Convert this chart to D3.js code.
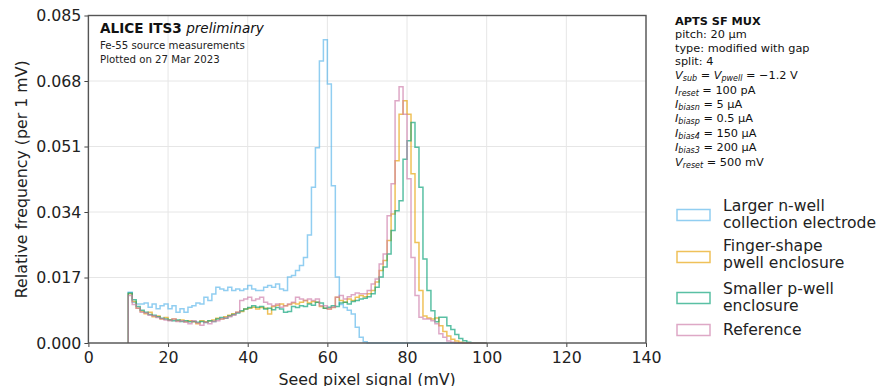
<!DOCTYPE html>
<html>
<head>
<meta charset="utf-8">
<script src="https://cdn.jsdelivr.net/npm/d3@7"></script>
<style>
  body { margin: 0; background: #fff; }
  svg { display: block; font-family: "DejaVu Sans", sans-serif; }
</style>
</head>
<body>
<svg id="chart" width="880" height="386"></svg>
<script>
// bin lower edges in mV, 1 mV wide bins
var binStart = d3.range(10, 100);

// relative frequency per bin
var nwell = [0.0132,0.0106,0.0101,0.0101,0.0104,0.0093,0.0101,0.0089,0.0097,0.0101,
  0.0089,0.0097,0.0080,0.0089,0.0080,0.0093,0.0097,0.0104,0.0101,0.0119,
  0.0110,0.0127,0.0145,0.0140,0.0136,0.0145,0.0136,0.0140,0.0136,0.0140,
  0.0149,0.0140,0.0136,0.0136,0.0145,0.0149,0.0145,0.0153,0.0140,0.0136,
  0.0171,0.0175,0.0188,0.0201,0.0222,0.0280,0.0404,0.0507,0.0732,0.0787,
  0.0672,0.0408,0.0171,0.0100,0.0092,0.0085,0.0075,0.0041,0.0015,0.0003,
  0,0,0,0,0,0,0,0,0,0, 0,0,0,0,0,0,0,0,0,0, 0,0,0,0,0,0,0,0,0,0];
var finger = [0.0128,0.0108,0.0090,0.0082,0.0076,0.0080,0.0068,0.0070,0.0062,0.0066,
  0.0060,0.0062,0.0058,0.0060,0.0056,0.0058,0.0055,0.0050,0.0058,0.0055,
  0.0057,0.0060,0.0064,0.0062,0.0068,0.0072,0.0076,0.0080,0.0082,0.0088,
  0.0090,0.0093,0.0088,0.0092,0.0090,0.0075,0.0095,0.0098,0.0101,0.0097,
  0.0100,0.0104,0.0101,0.0106,0.0110,0.0104,0.0108,0.0106,0.0095,0.0090,
  0.0088,0.0092,0.0119,0.0110,0.0106,0.0114,0.0110,0.0119,0.0123,0.0120,
  0.0128,0.0136,0.0158,0.0188,0.0214,0.0266,0.0335,0.0473,0.0594,0.0629,
  0.0594,0.0439,0.0261,0.0136,0.0070,0.0065,0.0062,0.0065,0.0045,0.0030,
  0.0018,0.0010,0.0005,0.0002,0,0,0,0,0,0];
var smaller = [0.0130,0.0112,0.0095,0.0085,0.0080,0.0074,0.0072,0.0068,0.0064,0.0062,
  0.0060,0.0058,0.0060,0.0056,0.0058,0.0055,0.0056,0.0054,0.0056,0.0053,
  0.0058,0.0056,0.0062,0.0066,0.0064,0.0070,0.0074,0.0078,0.0084,0.0088,
  0.0092,0.0097,0.0093,0.0095,0.0088,0.0090,0.0086,0.0092,0.0088,0.0080,
  0.0082,0.0095,0.0092,0.0097,0.0095,0.0101,0.0098,0.0106,0.0104,0.0090,
  0.0093,0.0097,0.0095,0.0104,0.0106,0.0101,0.0108,0.0110,0.0114,0.0116,
  0.0120,0.0128,0.0145,0.0171,0.0197,0.0231,0.0292,0.0343,0.0369,0.0477,
  0.0525,0.0572,0.0508,0.0404,0.0218,0.0136,0.0084,0.0055,0.0067,0.0067,
  0.0045,0.0035,0.0022,0.0012,0.0006,0.0002,0,0,0,0];
var reference = [0.0123,0.0100,0.0090,0.0080,0.0078,0.0072,0.0070,0.0066,0.0063,0.0060,
  0.0058,0.0062,0.0056,0.0058,0.0054,0.0050,0.0058,0.0052,0.0046,0.0054,
  0.0050,0.0056,0.0058,0.0062,0.0065,0.0068,0.0072,0.0080,0.0110,0.0114,
  0.0119,0.0110,0.0114,0.0119,0.0106,0.0101,0.0097,0.0101,0.0093,0.0097,
  0.0101,0.0106,0.0119,0.0114,0.0110,0.0114,0.0110,0.0114,0.0097,0.0097,
  0.0088,0.0093,0.0119,0.0123,0.0114,0.0120,0.0125,0.0130,0.0128,0.0128,
  0.0136,0.0153,0.0166,0.0205,0.0231,0.0330,0.0413,0.0629,0.0665,0.0594,
  0.0426,0.0222,0.0123,0.0067,0.0062,0.0062,0.0058,0.0050,0.0024,0.0015,
  0.0005,0.0002,0,0,0,0,0,0,0,0];

var seriesNames = [["Larger n-well", "collection electrode"], ["Finger-shape", "pwell enclosure"],
  ["Smaller p-well", "enclosure"], ["Reference"]];
var seriesColors = ["#56B4E9", "#E69F00", "#009E73", "#CC79A7"];
var xTicks = [0, 20, 40, 60, 80, 100, 120, 140];
var yTicks = [0, 0.017, 0.034, 0.051, 0.068, 0.085];

drawChart();

function drawChart(){
  var svg = d3.select("#chart");
  var pLeft = 88.4, pRight = 646, pTop = 15.5, pBottom = 343;

  var x = d3.scaleLinear().domain([0, 140]).range([pLeft, pRight]);
  var y = d3.scaleLinear().domain([0, 0.085]).range([pBottom, pTop]);

  // grid
  svg.append("g").selectAll("line").data(xTicks).enter().append("line")
    .attr("x1", function(d){ return x(d); }).attr("x2", function(d){ return x(d); })
    .attr("y1", pTop).attr("y2", pBottom)
    .attr("stroke", "#e6e6e6").attr("stroke-width", 1);
  svg.append("g").selectAll("line").data(yTicks).enter().append("line")
    .attr("x1", pLeft).attr("x2", pRight)
    .attr("y1", function(d){ return y(d); }).attr("y2", function(d){ return y(d); })
    .attr("stroke", "#e6e6e6").attr("stroke-width", 1);

  // histograms as steps
  var line = d3.line().x(function(d){ return x(d[0]); }).y(function(d){ return y(d[1]); });
  [nwell, finger, smaller, reference].forEach(function(vals, k){
    var pts = [[binStart[0], 0]];
    vals.forEach(function(v, i){
      pts.push([binStart[i], v]);
      pts.push([binStart[i] + 1, v]);
    });
    pts.push([binStart[binStart.length - 1] + 1, 0]);
    svg.append("path").attr("d", line(pts))
      .attr("fill", "none")
      .attr("stroke", seriesColors[k])
      .attr("stroke-opacity", 0.65)
      .attr("stroke-width", 1.5);
  });

  // axes
  var xAxis = svg.append("g").attr("transform", "translate(0," + pBottom + ")")
    .call(d3.axisBottom(x).tickValues(xTicks).tickSize(4).tickPadding(5).tickFormat(d3.format("d")));
  var yAxis = svg.append("g").attr("transform", "translate(" + pLeft + ",0)")
    .call(d3.axisLeft(y).tickValues(yTicks).tickSize(4).tickPadding(3).tickFormat(d3.format(".3f")));
  [xAxis, yAxis].forEach(function(a){
    a.select(".domain").remove();
    a.selectAll("text").style("font-size", "15.8px").style("font-family", "DejaVu Sans").attr("fill", "#222");
    a.selectAll(".tick line").attr("stroke", "#444");
  });

  // frame
  svg.append("rect").attr("x", pLeft).attr("y", pTop)
    .attr("width", pRight - pLeft).attr("height", pBottom - pTop)
    .attr("fill", "none").attr("stroke", "#555").attr("stroke-width", 1.4);

  // axis labels
  svg.append("text").attr("x", (pLeft + pRight) / 2).attr("y", 384.5)
    .attr("text-anchor", "middle").style("font-size", "15.8px").attr("fill", "#222")
    .text("Seed pixel signal (mV)");
  svg.append("text").attr("transform", "translate(27," + (pTop + pBottom) / 2 + ") rotate(-90)")
    .attr("text-anchor", "middle").style("font-size", "15.8px").attr("fill", "#222")
    .text("Relative frequency (per 1 mV)");

  // top-left note
  var t1 = svg.append("text").attr("x", 100).attr("y", 33).style("font-size", "13.6px").attr("fill", "#111");
  t1.append("tspan").attr("font-weight", "bold").text("ALICE ITS3");
  t1.append("tspan").attr("font-style", "italic").text(" preliminary");
  svg.append("text").attr("x", 100).attr("y", 48.5).style("font-size", "10.2px").attr("fill", "#222")
    .text("Fe-55 source measurements");
  svg.append("text").attr("x", 100).attr("y", 63).style("font-size", "10.2px").attr("fill", "#222")
    .text("Plotted on 27 Mar 2023");

  // right note: [text, kind]  b=bold, n=normal, i=italic, s=subscript
  var noteLines = [
    [["APTS SF MUX", "b"]],
    [["pitch: 20 µm", "n"]],
    [["type: modified with gap", "n"]],
    [["split: 4", "n"]],
    [["V", "i"], ["sub", "s"], [" = ", "n"], ["V", "i"], ["pwell", "s"], [" = \u22121.2 V", "n"]],
    [["I", "i"], ["reset", "s"], [" = 100 pA", "n"]],
    [["I", "i"], ["biasn", "s"], [" = 5 µA", "n"]],
    [["I", "i"], ["biasp", "s"], [" = 0.5 µA", "n"]],
    [["I", "i"], ["bias4", "s"], [" = 150 µA", "n"]],
    [["I", "i"], ["bias3", "s"], [" = 200 µA", "n"]],
    [["V", "i"], ["reset", "s"], [" = 500 mV", "n"]]
  ];
  var noteY = [24.5, 38, 51.5, 65, 78.5, 93.5, 107.5, 121.5, 136.5, 150.5, 165.5];
  noteLines.forEach(function(parts, i){
    var t = svg.append("text").attr("x", 675).attr("y", noteY[i])
      .style("font-size", "11.3px").attr("fill", "#111");
    var shifted = false;
    parts.forEach(function(p){
      var s = t.append("tspan").text(p[0]);
      if (p[1] == "b") s.attr("font-weight", "bold");
      if (p[1] == "i") s.attr("font-style", "italic");
      if (p[1] == "s") { s.attr("font-style", "italic").attr("font-size", "8px").attr("dy", 2.5); shifted = true; }
      else if (shifted) { s.attr("dy", -2.5); shifted = false; }
    });
  });

  // legend
  var legY = [[205, 222.5], [245, 262.5], [288, 305.5], [329.5]];
  var boxY = [215, 257, 298, 330];
  seriesNames.forEach(function(name, k){
    svg.append("rect").attr("x", 677).attr("y", boxY[k] - 5.5).attr("width", 33).attr("height", 11)
      .attr("fill", "none").attr("stroke", seriesColors[k]).attr("stroke-opacity", 0.65).attr("stroke-width", 1.5);
    name.forEach(function(row, j){
      svg.append("text").attr("x", 723).attr("y", legY[k][j] + 5.5)
        .style("font-size", "15.6px").attr("fill", "#222").text(row);
    });
  });
}
</script>
</body>
</html>
